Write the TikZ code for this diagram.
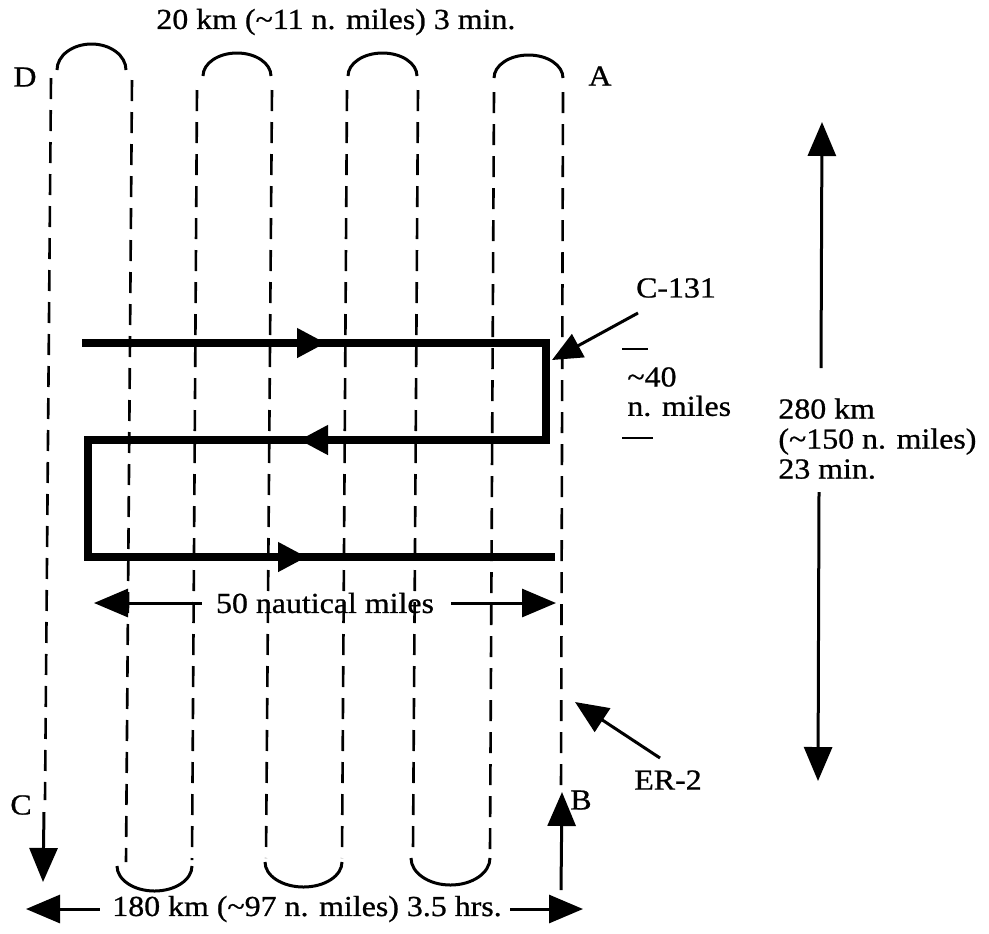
\documentclass[tikz,border=0pt]{standalone}
\usepackage{fontspec}
\setmainfont{Liberation Serif}[FakeStretch=1.1,FakeBold=0.8]
\usetikzlibrary{arrows.meta,calc}

\begin{document}
\begin{tikzpicture}[x=0.5pt,y=-0.5pt,
  lbl/.style={inner sep=0pt, font=\fontsize{14.5pt}{15pt}\selectfont},
  track/.style={line width=1.3pt, dash pattern=on 10.5pt off 5.5pt},
  turn/.style={line width=1.5pt},
  tick/.style={line width=1pt},
  thinarrow/.style={line width=1.5pt, -{Triangle[length=17pt,width=14pt]}},
  flight/.style={line width=3.75pt, line join=miter, line cap=butt},
  midhead/.style={line width=3.75pt, -{Triangle[length=14.5pt,width=14pt]}},
]
\useasboundingbox (0,0) rectangle (989,933);

% ---- ER-2 survey lines (dashed legs) ----
\draw[track] (51,78)  -- (45,800);
\draw[track] (132,80) -- (126,862);
\draw[track] (197,90) -- (192,860);
\draw[track] (272,90) -- (266,858);
\draw[track] (347,90) -- (342,858);
\draw[track] (418,90) -- (413,850);
\draw[track] (494,92) -- (490,850);
\draw[track] (563,92) -- (561,790);

% ---- turns at the top ----
\draw[turn] (57,70)  arc[start angle=180, end angle=0, x radius=17.25pt, y radius=13pt];
\draw[turn] (203,76) arc[start angle=180, end angle=0, x radius=17pt, y radius=11.5pt];
\draw[turn] (348,76) arc[start angle=180, end angle=0, x radius=17.25pt, y radius=11.5pt];
\draw[turn] (494,78) arc[start angle=180, end angle=0, x radius=17.25pt, y radius=11.5pt];

% ---- turns at the bottom ----
\draw[turn] (117,866) arc[start angle=180, end angle=360, x radius=18.75pt, y radius=12.5pt];
\draw[turn] (265,862) arc[start angle=180, end angle=360, x radius=19.25pt, y radius=12.5pt];
\draw[turn] (411,858) arc[start angle=180, end angle=360, x radius=19.75pt, y radius=13.5pt];

% ---- corner labels ----
\node[lbl] (D) at (25,77)  {D};
\node[lbl] (A) at (600,76) {A};
\node[lbl] (C) at (21,805) {C};
\node[lbl] (B) at (581,800) {B};

% start and end arrows of the survey
\coordinate (cfrom) at (44,812);
\coordinate (cto)   at (43,882);
\coordinate (bfrom) at (561,890);
\coordinate (bto)   at (562,792);
\draw[thinarrow] (cfrom) -- (cto);
\draw[thinarrow] (bfrom) -- (bto);

% ---- C-131 flight track ----
\coordinate (p0) at (82,343);
\coordinate (p1) at (546,343);
\coordinate (p2) at (546,440);
\coordinate (p3) at (88,440);
\coordinate (p4) at (88,557);
\coordinate (p5) at (555,557);
\draw[flight] (p0) -- (p1) -- (p2) -- (p3) -- (p4) -- (p5);
\draw[midhead] (296,343) -- (326,343);
\draw[midhead] (329,440) -- (299,440);
\draw[midhead] (277,557) -- (307,557);

% ---- top width label ----
\node[lbl, anchor=west] (top) at (156,22) {20 km (\textasciitilde 11 n. miles) 3 min.};

% ---- 50 nautical miles ----
\node[lbl] (fifty) at (325,603) {50 nautical miles};
\coordinate (fl) at (94,603);
\coordinate (fr) at (556,603);
\draw[thinarrow] ($(fifty.west)+(-14,0)$) -- (fl);
\draw[thinarrow] ($(fifty.east)+(17,0)$) -- (fr);

% ---- overall width ----
\node[lbl] (width) at (307,909) {180 km (\textasciitilde 97 n. miles) 3.5 hrs.};
\coordinate (wl) at (26,909);
\coordinate (wr) at (583,909);
\draw[thinarrow] ($(width.west)+(-12,0)$) -- (wl);
\draw[thinarrow] ($(width.east)+(8,0)$) -- (wr);

% ---- aircraft labels ----
\node[lbl] (c131) at (676,288) {C-131};
\coordinate (c131tail) at (638,313);
\coordinate (c131tip)  at (552,360);
\draw[line width=1.5pt, -{Triangle[length=15pt,width=13pt]}] (c131tail) -- (c131tip);

\node[lbl] (er2) at (668,780) {ER-2};
\coordinate (er2tail) at (660,758);
\coordinate (er2tip)  at (575,702);
\draw[line width=1.5pt, -{Triangle[length=16.5pt,width=14pt]}] (er2tail) -- (er2tip);

% ---- leg spacing ----
\draw[tick] (622,349) -- (648,349);
\draw[tick] (622,438) -- (653,438);
\node[lbl, anchor=west] (forty) at (627,377) {\textasciitilde 40};
\node[lbl, anchor=west] (nm) at (627,406) {n. miles};

% ---- leg length ----
\node[lbl, anchor=north west, align=left] (len) at (778,398)
  {280 km\\(\textasciitilde 150 n. miles)\\23 min.};
\coordinate (lt0) at (821,368);
\coordinate (lt1) at (822,122);
\coordinate (lb0) at (819,492);
\coordinate (lb1) at (818,781);
\draw[thinarrow] (lt0) -- (lt1);
\draw[thinarrow] (lb0) -- (lb1);
\end{tikzpicture}
\end{document}
